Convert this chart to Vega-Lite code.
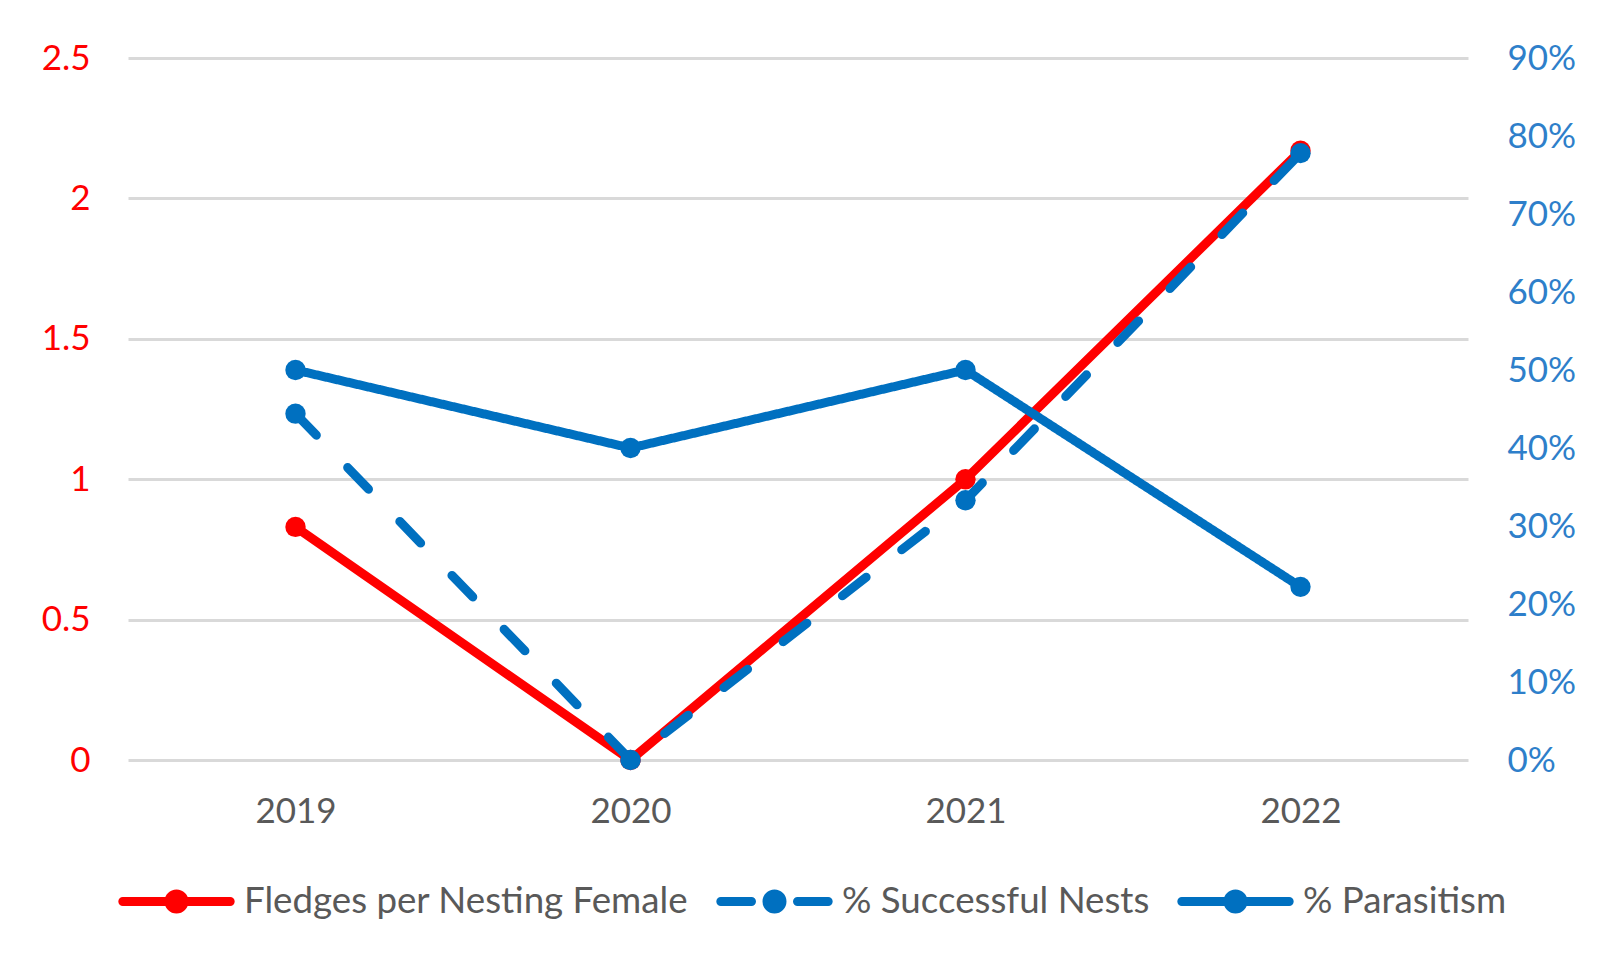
{
  "$schema": "https://vega.github.io/schema/vega-lite/v6.json",
  "width": 1340,
  "height": 702,
  "autosize": "none",
  "padding": {"left": 128, "top": 58, "right": 136, "bottom": 204},
  "background": "white",
  "config": {
    "font": "Lato",
    "view": {"stroke": null},
    "legend": {
      "orient": "none",
      "legendX": -15,
      "legendY": 780,
      "direction": "horizontal",
      "padding": 0,
      "symbolType": "M-0.91,0H0.91M0.127,0A0.127,0.127,0,1,1,-0.127,0A0.127,0.127,0,1,1,0.127,0Z",
      "symbolSize": 13924,
      "symbolStrokeWidth": 9,
      "labelFontSize": 36.7,
      "labelFont": "Lato",
      "labelColor": "#595959",
      "labelOffset": 4,
      "columnPadding": 13,
      "labelLimit": 0
    }
  },
  "data": {
    "values": [
      {"year": "2019", "series": "Fledges per Nesting Female", "value": 0.83},
      {"year": "2020", "series": "Fledges per Nesting Female", "value": 0},
      {"year": "2021", "series": "Fledges per Nesting Female", "value": 1.0},
      {"year": "2022", "series": "Fledges per Nesting Female", "value": 2.17},
      {"year": "2019", "series": "% Successful Nests", "value": 0.444},
      {"year": "2020", "series": "% Successful Nests", "value": 0},
      {"year": "2021", "series": "% Successful Nests", "value": 0.333},
      {"year": "2022", "series": "% Successful Nests", "value": 0.778},
      {"year": "2019", "series": "% Parasitism", "value": 0.5},
      {"year": "2020", "series": "% Parasitism", "value": 0.4},
      {"year": "2021", "series": "% Parasitism", "value": 0.5},
      {"year": "2022", "series": "% Parasitism", "value": 0.222}
    ]
  },
  "encoding": {
    "x": {
      "field": "year",
      "type": "ordinal",
      "scale": {"type": "point", "padding": 0.5},
      "axis": {
        "title": null,
        "domain": false,
        "ticks": false,
        "tickSize": 0,
        "grid": false,
        "labelAngle": 0,
        "labelFontSize": 35,
        "labelColor": "#595959",
        "labelPadding": 51,
        "labelBaseline": "middle"
      }
    },
    "color": {
      "field": "series",
      "type": "nominal",
      "scale": {
        "domain": ["Fledges per Nesting Female", "% Successful Nests", "% Parasitism"],
        "range": ["#FF0000", "#0070C0", "#0070C0"]
      },
      "legend": {
        "title": null,
        "encode": {
          "symbols": {
            "update": {
              "shape": {"signal": "datum.value === '% Successful Nests' ? 'M-0.91,0H-0.39M0.39,0H0.91M0.127,0A0.127,0.127,0,1,1,-0.127,0A0.127,0.127,0,1,1,0.127,0Z' : 'M-0.91,0H0.91M0.127,0A0.127,0.127,0,1,1,-0.127,0A0.127,0.127,0,1,1,0.127,0Z'"},
              "fill": {"signal": "datum.value === 'Fledges per Nesting Female' ? '#FF0000' : '#0070C0'"},
              "stroke": {"signal": "datum.value === 'Fledges per Nesting Female' ? '#FF0000' : '#0070C0'"},
              "strokeCap": {"value": "round"},
              "strokeWidth": {"value": 9},
              "opacity": {"value": 1}
            }
          }
        }
      }
    }
  },
  "layer": [
    {
      "transform": [{"filter": "datum.series === 'Fledges per Nesting Female'"}],
      "encoding": {
        "y": {
          "field": "value",
          "type": "quantitative",
          "scale": {"domain": [0, 2.5], "nice": false},
          "axis": {
            "orient": "left",
            "title": null,
            "format": "~g",
            "values": [0, 0.5, 1, 1.5, 2, 2.5],
            "domain": false,
            "ticks": false,
            "tickSize": 0,
            "grid": true,
            "gridColor": "#D9D9D9",
            "gridWidth": 3,
            "labelFontSize": 35,
            "labelColor": "#FF0000",
            "labelPadding": 38,
            "labelBaseline": "middle"
          }
        }
      },
      "layer": [
        {"mark": {"type": "line", "strokeWidth": 9, "strokeCap": "round", "strokeJoin": "round"}},
        {"mark": {"type": "point", "filled": true, "size": 415, "opacity": 1}}
      ]
    },
    {
      "transform": [{"filter": "datum.series !== 'Fledges per Nesting Female'"}],
      "encoding": {
        "y": {
          "field": "value",
          "type": "quantitative",
          "scale": {"domain": [0, 0.9], "nice": false},
          "axis": {
            "orient": "right",
            "title": null,
            "format": ".0%",
            "values": [0, 0.1, 0.2, 0.3, 0.4, 0.5, 0.6, 0.7, 0.8, 0.9],
            "domain": false,
            "ticks": false,
            "tickSize": 0,
            "grid": false,
            "labelFontSize": 35,
            "labelColor": "#2E7FCA",
            "labelPadding": 39,
            "labelBaseline": "middle"
          }
        }
      },
      "layer": [
        {
          "mark": {"type": "line", "strokeWidth": 9, "strokeCap": "round", "strokeJoin": "round"},
          "encoding": {
            "strokeDash": {
              "field": "series",
              "type": "nominal",
              "scale": {"domain": ["% Successful Nests", "% Parasitism"], "range": [[30, 45], [1, 0]]},
              "legend": null
            }
          }
        },
        {"mark": {"type": "point", "filled": true, "size": 415, "opacity": 1}}
      ]
    }
  ],
  "resolve": {"scale": {"y": "independent"}}
}
